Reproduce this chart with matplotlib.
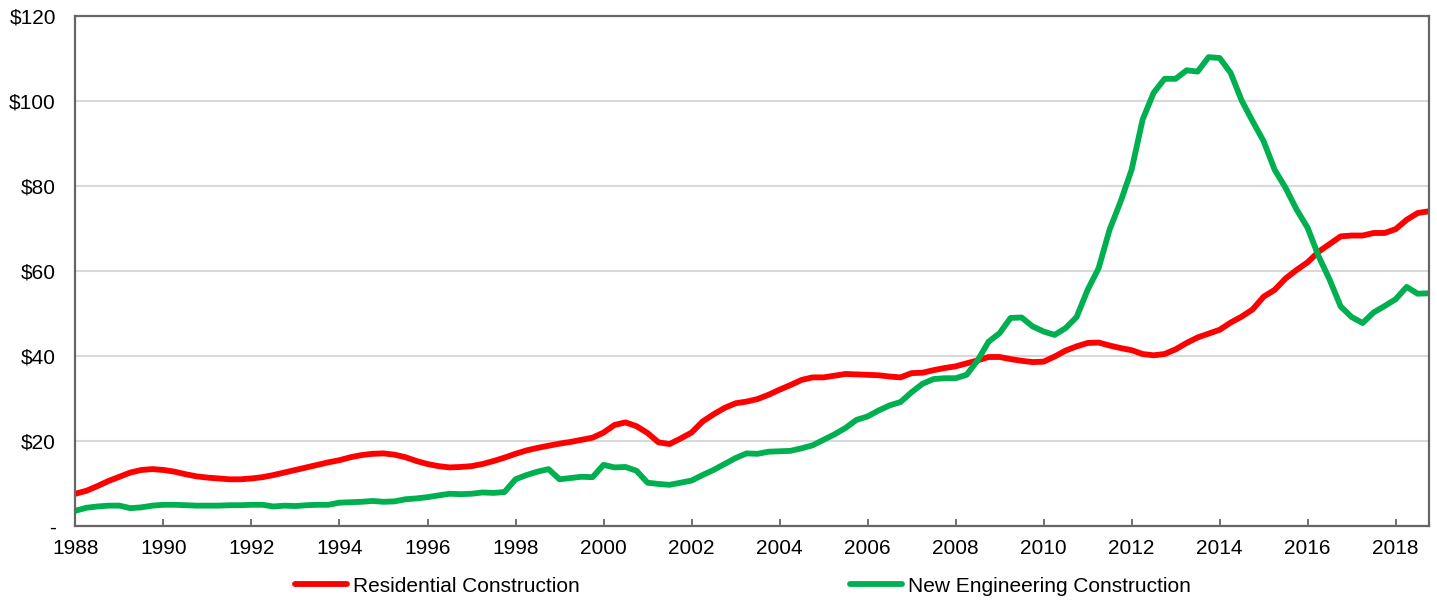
"""
Work done: residential vs new engineering construction, quarterly, $ billion.
"""

import numpy as np
import matplotlib
matplotlib.use("Agg")
import matplotlib.pyplot as plt
from matplotlib.ticker import FuncFormatter

plt.rcParams['font.family'] = ['Liberation Sans', 'DejaVu Sans']

# Quarterly values, 1988 Q1 .. 2018 Q4
residencial = [
    7.6, 8.3, 9.4, 10.6,
    11.6, 12.6, 13.2, 13.4,
    13.2, 12.8, 12.2, 11.7,
    11.4, 11.2, 11.0, 11.0,
    11.2, 11.5, 12.0, 12.6,
    13.2, 13.8, 14.4, 15.0,
    15.5, 16.2, 16.7, 17.0,
    17.1, 16.8, 16.2, 15.3,
    14.6, 14.1, 13.8, 13.9,
    14.1, 14.6, 15.3, 16.1,
    17.0, 17.8, 18.4, 18.9,
    19.4, 19.8, 20.3, 20.8,
    22.0, 23.8, 24.4, 23.5,
    21.9, 19.7, 19.3, 20.6,
    22.0, 24.6, 26.3, 27.8,
    28.9, 29.3, 29.9, 30.9,
    32.1, 33.2, 34.4, 35.0,
    35.0, 35.4, 35.8, 35.7,
    35.6, 35.5, 35.2, 35.0,
    36.0, 36.1, 36.7, 37.2,
    37.6, 38.3, 39.0, 39.8,
    39.8, 39.3, 38.9, 38.6,
    38.7, 39.9, 41.3, 42.3,
    43.1, 43.2, 42.5, 41.9,
    41.4, 40.5, 40.2, 40.5,
    41.6, 43.1, 44.4, 45.3,
    46.2, 47.9, 49.3, 51.0,
    54.0, 55.6, 58.3, 60.3,
    62.1, 64.6, 66.4, 68.2,
    68.4, 68.4, 69.0, 69.0,
    69.9, 72.1, 73.7, 74.1,
]

ingenieria = [
    3.6, 4.3, 4.6, 4.8,
    4.8, 4.2, 4.4, 4.8,
    5.0, 5.0, 4.9, 4.8,
    4.8, 4.8, 4.9, 4.9,
    5.0, 5.0, 4.6, 4.8,
    4.7, 4.9, 5.0, 5.0,
    5.5, 5.6, 5.7, 5.9,
    5.7, 5.8, 6.3, 6.5,
    6.8, 7.2, 7.6, 7.5,
    7.6, 7.9, 7.8, 8.0,
    11.0, 12.0, 12.8, 13.4,
    11.0, 11.3, 11.6, 11.5,
    14.4, 13.8, 13.9, 13.0,
    10.2, 9.9, 9.7, 10.2,
    10.7, 12.0, 13.2, 14.6,
    16.0, 17.1, 17.0, 17.5,
    17.6, 17.7, 18.3, 19.0,
    20.3, 21.6, 23.1, 25.0,
    25.8, 27.2, 28.4, 29.2,
    31.5, 33.5, 34.6, 34.8,
    34.8, 35.6, 39.0, 43.4,
    45.4, 49.0, 49.1, 47.0,
    45.8, 45.0, 46.6, 49.2,
    55.6, 60.7, 69.8, 76.4,
    83.9, 95.7, 102.0, 105.3,
    105.3, 107.3, 107.0, 110.4,
    110.2, 106.7, 100.2, 95.3,
    90.6, 83.9, 79.6, 74.5,
    70.2, 63.5, 58.0, 51.7,
    49.2, 47.8, 50.3, 51.8,
    53.4, 56.3, 54.7, 54.8,
]

anios_eje = list(range(1988, 2019, 2))
trimestres = 1988 + np.arange(len(residencial)) / 4


def etiqueta_y(v, pos):
    return "-" if v == 0 else "${:d}".format(int(v))


fig = plt.figure(figsize=(14.37, 6.0), dpi=100)
ax = fig.add_axes([0.0525, 0.1233, 0.9417, 0.8494])

ax.plot(trimestres, residencial, color="#FF0000", linewidth=4.2,
        label="Residential Construction", solid_capstyle="round")
ax.plot(trimestres, ingenieria, color="#00B050", linewidth=4.2,
        label="New Engineering Construction", solid_capstyle="round")

ax.set_xlim(trimestres[0], trimestres[-1])
ax.set_ylim(0, 120)
ax.set_xticks(anios_eje)
ax.set_yticks(range(0, 121, 20))
ax.yaxis.set_major_formatter(FuncFormatter(etiqueta_y))

ax.grid(axis="y", color="#D9D9D9", linewidth=1.5)
ax.set_axisbelow(True)
for lado in ax.spines.values():
    lado.set_color("#666666")
    lado.set_linewidth(1.6)

ax.tick_params(axis="x", direction="in", length=5, width=1.3, color="#666666",
               pad=9.5, labelsize=15)
ax.tick_params(axis="y", length=0, pad=14, labelsize=15)

fig.legend(loc="center", bbox_to_anchor=(0.517, 0.023), ncol=2, frameon=False,
           fontsize=15, handlelength=2.5, handletextpad=0.25,
           columnspacing=13.0)

fig.savefig("out.png", dpi=100)
plt.close(fig)
